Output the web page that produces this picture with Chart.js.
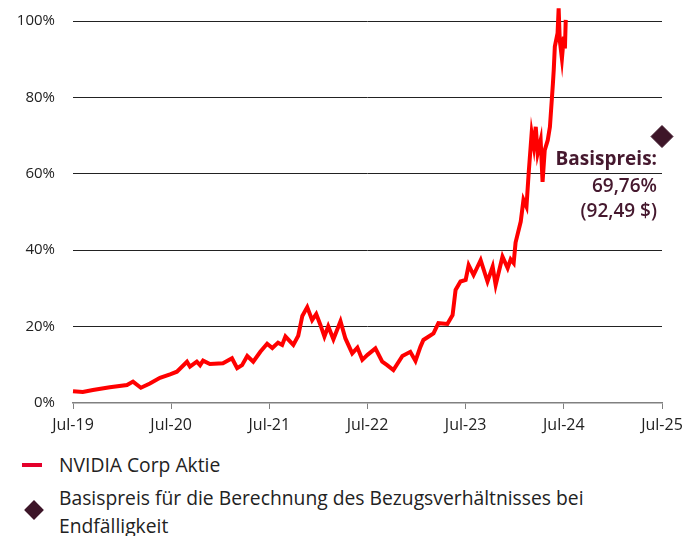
<!DOCTYPE html>
<html>
<head>
<meta charset="utf-8">
<script src="https://cdn.jsdelivr.net/npm/chart.js@4"></script>
<style>
  body { margin: 0; background: #fff; font-family: "Open Sans", sans-serif; }
  .wrap { position: relative; width: 685px; height: 536px; }
  .chart-box { position: absolute; left: 0; top: 0; width: 685px; height: 440px; }
  .legend { position: absolute; left: 0; top: 448px; color: #222; font-size: 19.3px; }
  .leg-row { position: absolute; left: 59px; white-space: nowrap; }
  .dash { position: absolute; left: 22px; top: 15px; width: 20px; height: 4px; background: #e4002b; }
  .diamond { position: absolute; left: 27px; top: 55px; width: 14px; height: 14px; background: #3d1528; transform: rotate(45deg); }
</style>
</head>
<body>
<div class="wrap">
  <div class="chart-box"><canvas id="myChart"></canvas></div>
  <div class="legend">
    <div class="dash"></div>
    <div class="leg-row" style="top:5px; line-height:24px;">NVIDIA Corp Aktie</div>
    <div class="diamond"></div>
    <div class="leg-row" style="top:36px; line-height:28px;">Basispreis für die Berechnung des Bezugsverhältnisses bei<br>Endfälligkeit</div>
  </div>
</div>
<script>
// NVIDIA price in %
const dates = [
  "2019-07-01","2019-08-07","2019-09-14","2019-11-16","2020-01-19","2020-02-11","2020-03-10","2020-04-13",
  "2020-05-20","2020-06-27","2020-07-22","2020-08-29","2020-09-10","2020-10-05","2020-10-17","2020-10-28",
  "2020-11-23","2021-01-11","2021-02-14","2021-03-03","2021-03-21","2021-04-10","2021-05-02","2021-05-28",
  "2021-06-23","2021-07-12","2021-08-03","2021-08-18","2021-08-30","2021-09-29","2021-10-17","2021-11-02",
  "2021-11-20","2021-12-08","2021-12-23","2022-01-08","2022-01-23","2022-02-07","2022-02-26","2022-03-22",
  "2022-04-10","2022-05-05","2022-05-24","2022-06-12","2022-07-01","2022-07-30","2022-08-25","2022-09-13",
  "2022-10-06","2022-11-09","2022-12-08","2022-12-27","2023-01-15","2023-01-26","2023-03-03","2023-03-21",
  "2023-04-24","2023-05-13","2023-05-24","2023-06-12","2023-07-01","2023-07-12","2023-07-30","2023-08-26",
  "2023-09-21","2023-10-10","2023-10-21","2023-11-16","2023-12-05","2023-12-16","2023-12-27","2024-01-04",
  "2024-01-23","2024-02-03","2024-02-14","2024-02-22","2024-03-03","2024-03-11","2024-03-18","2024-03-25",
  "2024-04-06","2024-04-13","2024-04-21","2024-05-02","2024-05-10","2024-05-21","2024-05-24","2024-05-28",
  "2024-06-08","2024-06-12","2024-06-16","2024-06-24","2024-07-01","2024-07-05","2024-07-08"
];
const nvidia = [
  3.1, 2.9, 3.4, 4.1, 4.7, 5.6, 4.0, 5.1,
  6.6, 7.5, 8.2, 10.8, 9.5, 10.8, 9.9, 11.1,
  10.2, 10.4, 11.7, 9.1, 9.9, 12.3, 10.8, 13.4,
  15.5, 14.4, 15.8, 15.2, 17.4, 15.2, 17.6, 22.8,
  25.1, 21.7, 23.3, 20.5, 17.4, 20.1, 16.7, 21.4,
  16.9, 13.0, 14.5, 11.3, 12.6, 14.3, 10.8, 9.9,
  8.6, 12.3, 13.4, 11.0, 14.7, 16.5, 18.2, 20.9,
  20.7, 23.0, 29.6, 31.8, 32.2, 36.1, 33.5, 37.4,
  31.8, 35.7, 30.9, 38.3, 35.3, 37.6, 36.6, 42.0,
  47.5, 53.2, 51.4, 60.1, 70.6, 67.1, 72.3, 65.4,
  68.8, 57.9, 66.2, 68.8, 72.3, 83.7, 87.2, 93.3,
  96.8, 103.3, 95.0, 90.2, 95.9, 92.8, 100.3
];
const strikeDate = "2025-07-01";
const strikeValue = 69.76;
const strikeLabel = ["Basispreis:", "69,76%", "(92,49 $)"];
const xTickLabels = ["Jul-19", "Jul-20", "Jul-21", "Jul-22", "Jul-23", "Jul-24", "Jul-25"];
const yTicks = [0, 20, 40, 60, 80, 100];

// months since Jul-19
function toMonths(d) {
  const p = d.split("-").map(Number);
  return (p[0] - 2019) * 12 + (p[1] - 7) + (p[2] - 1) / 30;
}

const FONT = "'Open Sans', sans-serif";

// draws the "Basispreis" note under the diamond
const strikeNote = {
  id: "strikeNote",
  afterDatasetsDraw(chart) {
    const ctx = chart.ctx;
    const x = chart.scales.x.getPixelForValue(toMonths(strikeDate)) - 5;
    const y = chart.scales.y.getPixelForValue(strikeValue);
    ctx.save();
    ctx.fillStyle = "#45182e";
    ctx.textAlign = "right";
    ctx.textBaseline = "middle";
    ctx.font = "bold 19px " + FONT;
    ctx.fillText(strikeLabel[0], x, y + 23);
    ctx.font = "600 19px " + FONT;
    ctx.fillText(strikeLabel[1], x, y + 50);
    ctx.fillText(strikeLabel[2], x, y + 75);
    ctx.restore();
  }
};

new Chart(document.getElementById("myChart"), {
  type: "line",
  data: {
    datasets: [
      {
        label: "NVIDIA Corp Aktie",
        data: dates.map((d, i) => ({ x: toMonths(d), y: nvidia[i] })),
        borderColor: "#ff0000",
        borderWidth: 4,
        pointRadius: 0,
        pointHoverRadius: 0,
        tension: 0,
        clip: false
      },
      {
        label: "Basispreis",
        data: [{ x: toMonths(strikeDate), y: strikeValue }],
        showLine: false,
        pointStyle: "rectRot",
        pointRadius: 11,
        backgroundColor: "#3d1528",
        borderColor: "#3d1528",
        clip: false
      }
    ]
  },
  options: {
    responsive: true,
    maintainAspectRatio: false,
    animation: false,
    layout: { autoPadding: false, padding: { top: 21, right: 23, left: 0, bottom: 0 } },
    plugins: { legend: { display: false }, tooltip: { enabled: false } },
    scales: {
      x: {
        type: "linear",
        min: 0,
        max: 72,
        afterBuildTicks: s => { s.ticks = xTickLabels.map((_, i) => ({ value: i * 12 })); },
        afterFit: s => { s.height = 37; },
        ticks: {
          callback: (v) => xTickLabels[Math.round(v / 12)],
          color: "#222",
          font: { family: FONT, size: 16, lineHeight: 1.9 },
          padding: 1,
          maxRotation: 0
        },
        grid: { drawOnChartArea: false, color: "#808080", tickLength: 6 },
        border: { color: "#808080", width: 1.5 }
      },
      y: {
        min: 0,
        max: 100,
        afterBuildTicks: s => { s.ticks = yTicks.map(v => ({ value: v })); },
        afterFit: s => { s.width = 73; },
        ticks: {
          callback: v => v + "%",
          color: "#222",
          font: { family: FONT, size: 15 },
          padding: 3
        },
        grid: {
          drawTicks: true,
          tickLength: 15,
          tickColor: "rgba(0,0,0,0)",
          color: c => c.tick && c.tick.value === 0 ? "rgba(0,0,0,0)" : "#222",
          lineWidth: 1
        },
        border: { display: false }
      }
    }
  },
  plugins: [strikeNote]
});
</script>
</body>
</html>
